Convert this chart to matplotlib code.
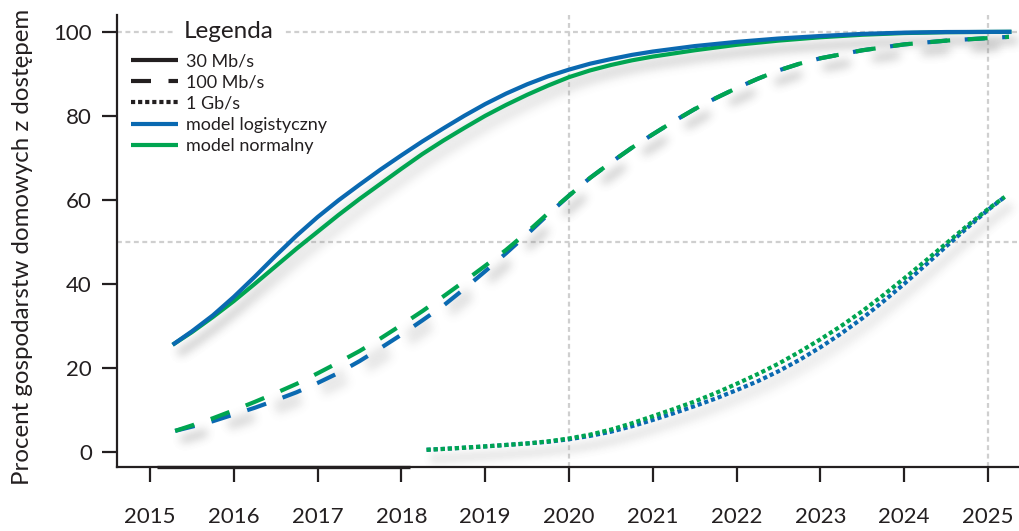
import numpy as np
import matplotlib
matplotlib.use("Agg")
import matplotlib.pyplot as plt
from matplotlib.lines import Line2D
from matplotlib.transforms import Affine2D

# ---- data -------------------------------------------------------------
years_30 = [2015.27, 2015.5, 2015.75, 2016.0, 2016.25, 2016.5, 2016.75, 2017.0,
            2017.25, 2017.5, 2017.75, 2018.0, 2018.25, 2018.5, 2018.75, 2019.0,
            2019.25, 2019.5, 2019.75, 2020.0, 2020.25, 2020.5, 2020.75, 2021.0,
            2021.5, 2022.0, 2022.5, 2023.0, 2023.5, 2024.0, 2024.5, 2025.28]
logistic_30 = [25.5, 28.7, 32.5, 36.9, 41.7, 46.7, 51.5, 55.9,
               59.9, 63.6, 67.2, 70.6, 73.9, 77.0, 80.0, 82.8,
               85.3, 87.5, 89.4, 91.0, 92.4, 93.5, 94.5, 95.3,
               96.6, 97.6, 98.4, 99.0, 99.5, 99.8, 99.95, 100.0]
normal_30 = [25.5, 28.5, 32.1, 35.9, 40.0, 44.2, 48.4, 52.4,
             56.4, 60.2, 63.8, 67.4, 70.9, 74.1, 77.1, 80.0,
             82.6, 85.0, 87.2, 89.2, 90.8, 92.1, 93.2, 94.1,
             95.6, 96.9, 97.9, 98.7, 99.3, 99.7, 99.9, 100.0]

years_100 = [2015.3, 2015.5, 2015.75, 2016.0, 2016.25, 2016.5, 2016.75, 2017.0,
             2017.25, 2017.5, 2017.75, 2018.0, 2018.25, 2018.5, 2018.75, 2019.0,
             2019.25, 2019.5, 2019.75, 2020.0, 2020.25, 2020.5, 2020.75, 2021.0,
             2021.25, 2021.5, 2021.75, 2022.0, 2022.25, 2022.5, 2022.75, 2023.0,
             2023.5, 2024.0, 2024.5, 2025.25]
logistic_100 = [5.0, 6.0, 7.3, 8.9, 10.5, 12.3, 14.2, 16.4,
                18.8, 21.6, 24.7, 27.9, 31.3, 34.8, 38.8, 43.0,
                47.3, 51.8, 56.5, 61.0, 65.2, 68.9, 72.4, 75.6,
                78.7, 81.6, 84.2, 86.6, 88.8, 90.8, 92.4, 93.7,
                95.6, 97.0, 97.9, 98.8]
normal_100 = [5.0, 6.3, 8.0, 9.9, 11.9, 14.0, 16.2, 18.7,
              21.3, 24.0, 27.0, 30.2, 33.5, 37.0, 40.6, 44.3,
              48.1, 52.3, 56.8, 61.0, 65.2, 68.9, 72.4, 75.6,
              78.7, 81.6, 84.2, 86.6, 88.8, 90.8, 92.4, 93.7,
              95.6, 97.0, 97.9, 98.8]

years_1g = [2018.3, 2018.5, 2019.0, 2019.5, 2019.75, 2020.0, 2020.25, 2020.5,
            2020.75, 2021.0, 2021.25, 2021.5, 2021.75, 2022.0, 2022.25, 2022.5,
            2022.75, 2023.0, 2023.25, 2023.5, 2023.75, 2024.0, 2024.25, 2024.5,
            2024.75, 2025.0, 2025.2]
logistic_1g = [0.5, 0.7, 1.3, 2.0, 2.4, 3.0, 3.8, 4.8,
               6.1, 7.6, 9.2, 10.9, 12.7, 14.7, 16.8, 19.2,
               21.9, 24.9, 28.2, 31.8, 35.8, 40.0, 44.4, 48.9,
               53.3, 57.6, 60.7]
normal_1g = [0.5, 0.7, 1.3, 2.0, 2.5, 3.2, 4.1, 5.3,
             6.8, 8.5, 10.2, 12.0, 14.0, 16.2, 18.5, 21.0,
             23.8, 26.8, 30.0, 33.5, 37.3, 41.3, 45.4, 49.6,
             53.8, 57.8, 60.7]

baseline_years = [2015.08, 2018.10]

x_ticks = list(range(2015, 2026))
y_ticks = [0, 20, 40, 60, 80, 100]
grid_years = [2020, 2025]
grid_levels = [50, 100]

legend_labels = ["30 Mb/s", "100 Mb/s", "1 Gb/s", "model logistyczny", "model normalny"]
y_label = "Procent gospodarstw domowych z dostępem"

# ---- style ------------------------------------------------------------
BLUE = "#0a69b1"
GREEN = "#00a551"
TEXT = "#231f20"
GRID = "#cfcfcf"
LW = 3.0
DASHED = (0, (4.8, 4.2))
DOTTED = (0, (1.0, 0.7))

plt.rcParams["font.family"] = ["Lato", "DejaVu Sans"]
plt.rcParams["text.color"] = TEXT


class BlurredShadow:
    """agg_filter: blurred, offset grey copy of the artist's alpha."""

    def __init__(self, sigma=4.5, strength=0.28, dx=6, dy=9, grey=0.5):
        self.sigma = sigma
        self.strength = strength
        self.dx = dx
        self.dy = dy
        self.grey = grey

    def __call__(self, im, dpi):
        r = int(3 * self.sigma)
        pad = r + max(abs(self.dx), abs(self.dy)) + 2
        a = np.pad(im[:, :, 3], pad)
        x = np.arange(-r, r + 1)
        k = np.exp(-x ** 2 / (2 * self.sigma ** 2))
        k /= k.sum()
        a = np.apply_along_axis(np.convolve, 1, a, k, mode="same")
        a = np.apply_along_axis(np.convolve, 0, a, k, mode="same")
        a = np.roll(a, self.dx, axis=1)
        a = np.roll(a, self.dy, axis=0)
        out = np.zeros(a.shape + (4,), dtype=float)
        out[..., :3] = self.grey
        out[..., 3] = np.clip(a * self.strength, 0, 1)
        return out, -pad, -pad


fig = plt.figure(figsize=(10.19, 5.31), dpi=100)
ax = fig.add_axes([117 / 1019, 1 - 467 / 531, 902 / 1019, 452 / 531])
ax.set_xlim(2014.606, 2025.37)
ax.set_ylim(-3.6, 104)

# reference grid lines
for gx in grid_years:
    ax.axvline(gx, color=GRID, lw=1.6, ls=(0, (2.2, 1.6)), zorder=0.5)
for gy in grid_levels:
    ax.axhline(gy, color=GRID, lw=1.6, ls=(0, (2.2, 1.6)), zorder=0.5)

series = [
    (years_100, logistic_100, BLUE, DASHED, 2.0),
    (years_100, normal_100, GREEN, DASHED, 2.1),
    (years_1g, logistic_1g, BLUE, DOTTED, 2.0),
    (years_1g, normal_1g, GREEN, DOTTED, 2.1),
    (years_30, normal_30, GREEN, "-", 2.2),
    (years_30, logistic_30, BLUE, "-", 2.3),
]

shadow = BlurredShadow()
for xs, ys, color, ls, z in series:
    sh, = ax.plot(xs, ys, color="k", lw=LW + 1, ls=ls, zorder=1,
                  solid_capstyle="butt", dash_capstyle="butt")
    sh.set_agg_filter(shadow)
    sh.set_rasterized(True)

for xs, ys, color, ls, z in series:
    ax.plot(xs, ys, color=color, lw=LW, ls=ls, zorder=z,
            solid_capstyle="butt", dash_capstyle="butt")

# dark segment along the base of the axis
ax.plot(baseline_years, [ax.get_ylim()[0]] * 2, color=TEXT, lw=2.4,
        solid_capstyle="butt", clip_on=False, zorder=3)

# axes styling
for side in ("top", "right"):
    ax.spines[side].set_visible(False)
for side in ("left", "bottom"):
    ax.spines[side].set_linewidth(1.6)
    ax.spines[side].set_color(TEXT)

ax.set_xticks(x_ticks)
ax.set_yticks(y_ticks)
ax.tick_params(axis="x", length=11, width=1.6, color=TEXT, pad=18,
               labelsize=16, labelcolor=TEXT)
ax.tick_params(axis="y", length=11, width=1.6, color=TEXT, pad=7,
               labelsize=16, labelcolor=TEXT)

ax.set_ylabel(y_label, fontsize=17.3, color=TEXT)
ax.yaxis.set_label_coords(-0.093, 0.487)

handles = [
    Line2D([], [], color=TEXT, lw=LW, ls="-", solid_capstyle="butt"),
    Line2D([], [], color=TEXT, lw=LW, ls=DASHED, dash_capstyle="butt"),
    Line2D([], [], color=TEXT, lw=LW, ls=DOTTED, dash_capstyle="butt"),
    Line2D([], [], color=BLUE, lw=LW, ls="-", solid_capstyle="butt"),
    Line2D([], [], color=GREEN, lw=LW, ls="-", solid_capstyle="butt"),
]
leg = ax.legend(handles, legend_labels, title="Legenda", loc="upper left",
                bbox_to_anchor=(0.0095, 0.984), frameon=False, fontsize=13,
                title_fontsize=17.5, handlelength=2.6, handletextpad=0.44,
                labelspacing=0.28, borderpad=0.3, borderaxespad=0.0)
title = leg.get_title()
title.set_bbox(dict(facecolor="white", edgecolor="none", pad=7))
# lift the title a little above the entries
title.set_transform(title.get_transform() + Affine2D().translate(0, 7))
leg.set_zorder(5)

fig.savefig("out.png", dpi=100, facecolor="white")
